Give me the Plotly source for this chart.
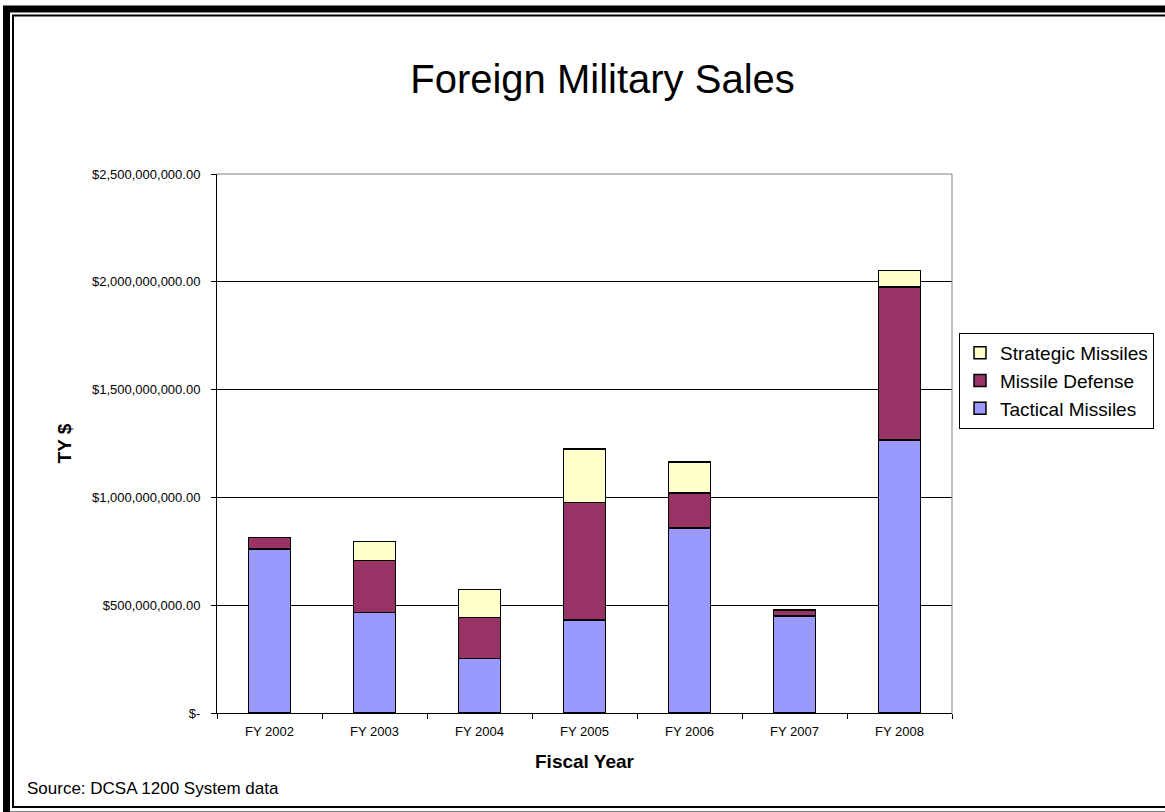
import plotly.graph_objects as go

categories = ["FY 2002", "FY 2003", "FY 2004", "FY 2005", "FY 2006", "FY 2007", "FY 2008"]
tactical = [761e6, 466e6, 252e6, 431e6, 858e6, 450e6, 1266e6]
missile_defense = [52e6, 242e6, 192e6, 546e6, 162e6, 27e6, 710e6]
strategic = [0, 87e6, 130e6, 248e6, 145e6, 0, 77e6]

y_tickvals = [0, 500e6, 1000e6, 1500e6, 2000e6, 2500e6]
y_ticktext = ["$-", "$500,000,000.00", "$1,000,000,000.00", "$1,500,000,000.00",
              "$2,000,000,000.00", "$2,500,000,000.00"]

FONT = "Liberation Sans, Arial, sans-serif"
W, H = 1165, 812
L, R, T, B = 217, 213, 174, 99
PW, PH = W - L - R, H - T - B


def px(x):
    return (x - L) / PW


def py(y):
    return (H - B - y) / PH


fig = go.Figure()
series = [
    ("Tactical Missiles", tactical, "#9999FF"),
    ("Missile Defense", missile_defense, "#993366"),
    ("Strategic Missiles", strategic, "#FFFFCC"),
]
for name, vals, col in series:
    fig.add_trace(go.Bar(
        x=categories, y=vals, name=name,
        marker=dict(color=col, line=dict(color="black", width=1.5)),
    ))

shapes = [
    dict(type="line", xref="paper", yref="paper", x0=0, x1=1, y0=1, y1=1,
         line=dict(color="#808080", width=1), layer="above"),
    dict(type="line", xref="paper", yref="paper", x0=1, x1=1, y0=0, y1=1,
         line=dict(color="#808080", width=1), layer="above"),
    dict(type="rect", xref="paper", yref="paper",
         x0=px(6.5), x1=px(1200), y0=py(9), y1=py(815),
         line=dict(color="black", width=7), layer="above"),
    dict(type="rect", xref="paper", yref="paper",
         x0=px(13), x1=px(1200), y0=py(15.5), y1=py(807),
         line=dict(color="black", width=2), layer="above"),
]

fig.update_layout(
    width=W, height=H,
    margin=dict(l=L, r=R, t=T, b=B, autoexpand=False),
    paper_bgcolor="white", plot_bgcolor="white",
    barmode="stack", bargap=0.6,
    font=dict(family=FONT, color="black"),
    title=dict(text="Foreign Military Sales", font=dict(size=40, family=FONT, color="black"),
               x=px(602.5), xref="paper", xanchor="center",
               y=1 - 79 / H, yref="container", yanchor="middle"),
    xaxis=dict(
        showline=True, linecolor="black", linewidth=1,
        ticks="outside", ticklen=5, tickcolor="black", tickson="boundaries",
        tickfont=dict(size=13, family=FONT, color="black"),
        ticklabelstandoff=6,
        title=dict(text="<b>Fiscal Year</b>", font=dict(size=19, family=FONT, color="black"),
                   standoff=17),
        showgrid=False,
    ),
    yaxis=dict(
        range=[0, 2.5e9], tickvals=y_tickvals, ticktext=y_ticktext,
        showline=True, linecolor="black", linewidth=1,
        ticks="outside", ticklen=5, tickcolor="black",
        tickfont=dict(size=13, family=FONT, color="black"),
        ticklabelstandoff=8,
        showgrid=True, gridcolor="black", gridwidth=1, zeroline=False,
        title=dict(text="<b>TY $</b>", font=dict(size=19, family=FONT, color="black"),
                   standoff=15),
    ),
    legend=dict(
        x=px(959), y=py(333), xanchor="left", yanchor="top",
        traceorder="reversed",
        font=dict(size=19, family=FONT, color="black"),
        bordercolor="black", borderwidth=1, bgcolor="white",
        itemwidth=30,
    ),
    shapes=shapes,
    annotations=[dict(
        text="Source: DCSA 1200 System data", xref="paper", yref="paper",
        x=px(25), y=py(788), xanchor="left", yanchor="middle", showarrow=False,
        font=dict(size=17, family=FONT, color="black"),
    )],
)

fig.write_html("out.html", config={"displayModeBar": False},
               post_script="document.body.style.margin='0';")
